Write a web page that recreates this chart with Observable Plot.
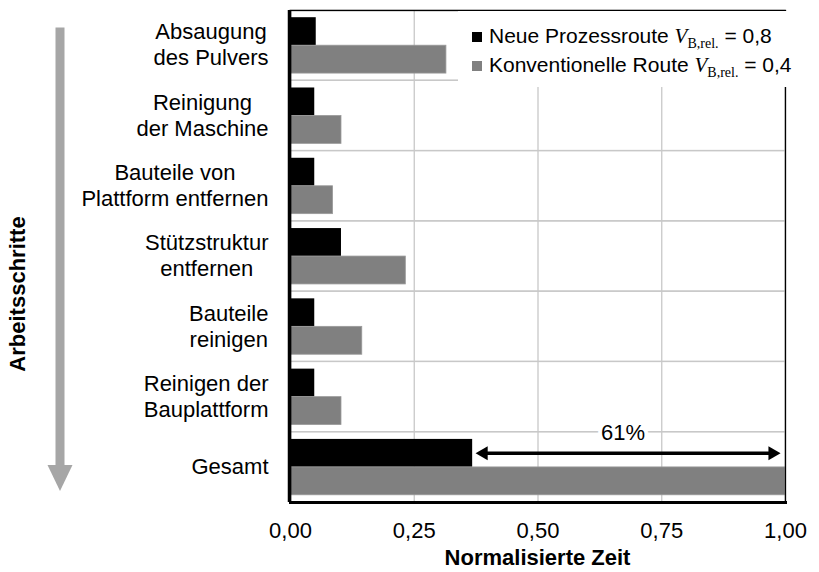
<!DOCTYPE html>
<html><head><meta charset="utf-8">
<script src="https://cdn.jsdelivr.net/npm/d3@7"></script>
<script src="https://cdn.jsdelivr.net/npm/@observablehq/plot@0.6"></script>
<style>body{margin:0;background:#fff} #chart svg{display:block}</style>
</head><body><div id="chart"></div>
<script>
const categories = ["Absaugung\ndes Pulvers", "Reinigung\nder Maschine", "Bauteile von\nPlattform entfernen", "Stützstruktur\nentfernen", "Bauteile\nreinigen", "Reinigen der\nBauplattform", "Gesamt"];
const neueRoute = [0.052, 0.049, 0.049, 0.103, 0.049, 0.049, 0.368];
const konvRoute = [0.315, 0.103, 0.086, 0.233, 0.145, 0.103, 1.0];
const xTicks = [0, 0.25, 0.5, 0.75, 1];
const seriesNames = ["Neue Prozessroute", "Konventionelle Route"];
const seriesVB = ["0,8", "0,4"];
const seriesColors = ["#000000", "#808080"];
const reductionLabel = "61%";
const xTitle = "Normalisierte Zeit";
const yTitle = "Arbeitsschritte";

const neueData = categories.map((c, i) => ({cat: c, value: neueRoute[i]}));
const konvData = categories.map((c, i) => ({cat: c, value: konvRoute[i]}));
const last = categories.length - 1;
const ann = [{cat: categories[last], from: neueRoute[last], to: konvRoute[last]}];
const grid = xTicks.filter(t => t > 0 && t < 1);
const font = "'Liberation Sans', Arial, Helvetica, sans-serif";

const chart = Plot.plot({
  width: 819, height: 572,
  marginLeft: 290, marginRight: 34, marginTop: 10, marginBottom: 70,
  style: {fontFamily: font, fontSize: "22px", color: "#000", background: "#fff"},
  x: {domain: [0, 1]},
  y: {type: "band", domain: categories, padding: 0, round: false},
  marks: [
    Plot.barX(categories, {y: d => d, x1: () => 0, x2: () => 1, fill: "none", stroke: "#c8c8c8", strokeWidth: 1.3}),
    Plot.ruleX(grid, {stroke: "#c8c8c8", strokeWidth: 1.3}),
    Plot.barX(neueData, {y: "cat", x: "value", fill: seriesColors[0], insetTop: 7.2, insetBottom: 35.2}),
    Plot.barX(konvData, {y: "cat", x: "value", fill: seriesColors[1], stroke: "#9a9a9a", strokeWidth: 0.8, insetTop: 35.2, insetBottom: 7.2}),
    Plot.frame({stroke: "#000", strokeWidth: 1.3}),
    Plot.ruleX([0], {stroke: "#000", strokeWidth: 3.5, dx: -1}),
    Plot.frame({anchor: "bottom", stroke: "#000", strokeWidth: 3}),
    Plot.ruleY(ann, {y: "cat", x1: "from", x2: "to", insetLeft: 10, insetRight: 14, stroke: "#000", strokeWidth: 3.5, dy: -14}),
    Plot.dot(ann, {x: "to", y: "cat", symbol: "triangle", r: 5.2, rotate: 90, fill: "#000", stroke: "none", dx: -13, dy: -14}),
    Plot.dot(ann, {x: "from", y: "cat", symbol: "triangle", r: 5.2, rotate: -90, fill: "#000", stroke: "none", dx: 11, dy: -14}),
    Plot.text(ann, {x: d => (d.from + d.to) / 2, y: "cat", text: () => reductionLabel, dy: -34, dx: -6, fill: "#000", stroke: "#fff", strokeWidth: 8, fontSize: 22}),
    Plot.axisX({ticks: xTicks, tickSize: 0, tickPadding: 20, tickFormat: d => d.toFixed(2).replace(".", ","), label: null, fontSize: 22}),
    Plot.axisY({tickSize: 0, tickPadding: 22, label: null, fontSize: 22, lineHeight: 1.18, dy: -1.5})
  ]
});
document.getElementById("chart").appendChild(chart);

const svg = d3.select(chart);

// center-align multi-line category labels as a right-aligned block
svg.selectAll("g[aria-label='y-axis tick label'] text").each(function() {
  const tsp = d3.select(this).selectAll("tspan");
  if (tsp.size() > 1) {
    let maxW = 0;
    tsp.each(function() { maxW = Math.max(maxW, this.getComputedTextLength()); });
    d3.select(this).attr("text-anchor", "middle");
    tsp.attr("x", function() { return (+this.getAttribute("x") || 0) - maxW / 2; });
  }
});

// legend
const serif = "'Liberation Serif', 'Times New Roman', serif";
const lg = svg.append("g").attr("font-family", font).attr("font-size", 21).attr("fill", "#000").attr("text-anchor", "start");
lg.append("rect").attr("x", 458).attr("y", 11).attr("width", 340).attr("height", 76).attr("fill", "#fff");
seriesNames.forEach((name, i) => {
  const base = 43 + 29 * i;
  lg.append("rect").attr("x", 472).attr("y", base - 11).attr("width", 10).attr("height", 10).attr("fill", seriesColors[i]);
  const t = lg.append("text").attr("x", 489).attr("y", base).attr("text-anchor", "start");
  t.append("tspan").text(name + " ");
  t.append("tspan").attr("font-family", serif).attr("font-style", "italic").text("V");
  t.append("tspan").attr("font-family", serif).attr("font-size", 14).attr("dy", 5).text("B,rel.");
  t.append("tspan").attr("dy", -5).text(" = " + seriesVB[i]);
});

// gray arrow on the left
const ga = svg.append("g").attr("fill", "#a6a6a6");
ga.append("rect").attr("x", 55.5).attr("y", 27.5).attr("width", 9).attr("height", 440);
ga.append("path").attr("d", "M47.5,465L72.5,465L60,491Z");

// axis titles
svg.append("text").attr("x", 537.5).attr("y", 565).attr("text-anchor", "middle")
  .attr("font-family", font).attr("font-size", 22).attr("font-weight", "bold").attr("fill", "#000").text(xTitle);
svg.append("text").attr("transform", "translate(25,294) rotate(-90)").attr("text-anchor", "middle")
  .attr("font-family", font).attr("font-size", 22).attr("font-weight", "bold").attr("fill", "#000").text(yTitle);
</script>
</body></html>
